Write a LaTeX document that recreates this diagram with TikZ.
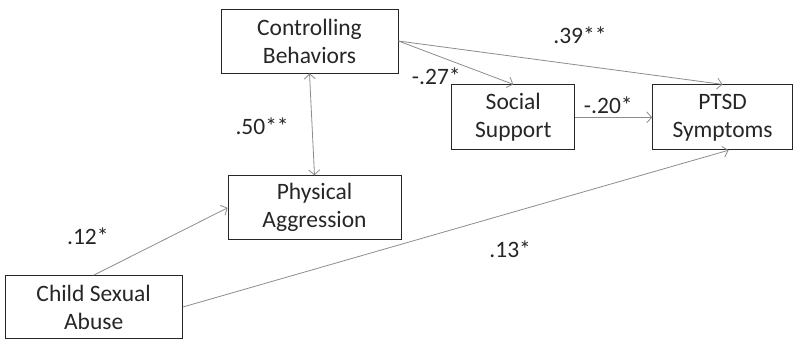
\documentclass[tikz,border=0pt]{standalone}
\usepackage{fontspec}
\setmainfont{Carlito}
\usetikzlibrary{positioning,arrows.meta}

\tikzset{
  var/.style={draw=black!85, line width=0.8pt, align=center, inner sep=2pt,
    font=\fontsize{23.5}{28}\selectfont, text=black!85},
  path/.style={draw=black!45, line width=0.8pt, ->, >={Straight Barb[length=5pt,width=11pt]}},
  coef/.style={font=\fontsize{23.5}{28}\selectfont, text=black!85, inner sep=0pt}
}

\begin{document}
\begin{tikzpicture}[x=1pt,y=1pt]
\useasboundingbox (0,0) rectangle (795,-339);

\node[var, minimum width=177pt, minimum height=64pt] (cb) at (309.5,-41) {Controlling\\Behaviors};
\node[var, minimum width=123pt, minimum height=65pt] (ss) [below right=11pt and 53pt of cb] {Social\\Support};
\node[var, minimum width=140pt, minimum height=65pt] (ptsd) [right=77pt of ss] {PTSD\\Symptoms};
\node[var, minimum width=173pt, minimum height=64pt] (pa) [below=102pt of cb, xshift=5pt] {Physical\\Aggression};
\node[var, minimum width=177pt, minimum height=63pt] (csa) [below left=35pt and 45pt of pa] {Child Sexual\\Abuse};

\draw[path] (cb.east) -- (ptsd.north) node[coef, pos=0.56, yshift=30pt] (c39) {.39**};
\draw[path] (cb.east) -- (ss.north) node[coef, pos=0.33, yshift=-21pt] (c27) {-.27*};
\draw[path] (ss.east) -- (ptsd.west) node[coef, pos=0.43, yshift=12pt] (c20) {-.20*};
\draw[path, <->] (cb.south) -- (pa.north) node[coef, pos=0.52, xshift=-50pt] (c50) {.50**};
\draw[path] (csa.north) -- (pa.west) node[coef, pos=0.3, xshift=-46pt, yshift=19pt] (c12) {.12*};
\draw[path] (csa.east) -- ([xshift=6pt]ptsd.south) node[coef, pos=0.6, yshift=-36pt] (c13) {.13*};
\end{tikzpicture}
\end{document}
